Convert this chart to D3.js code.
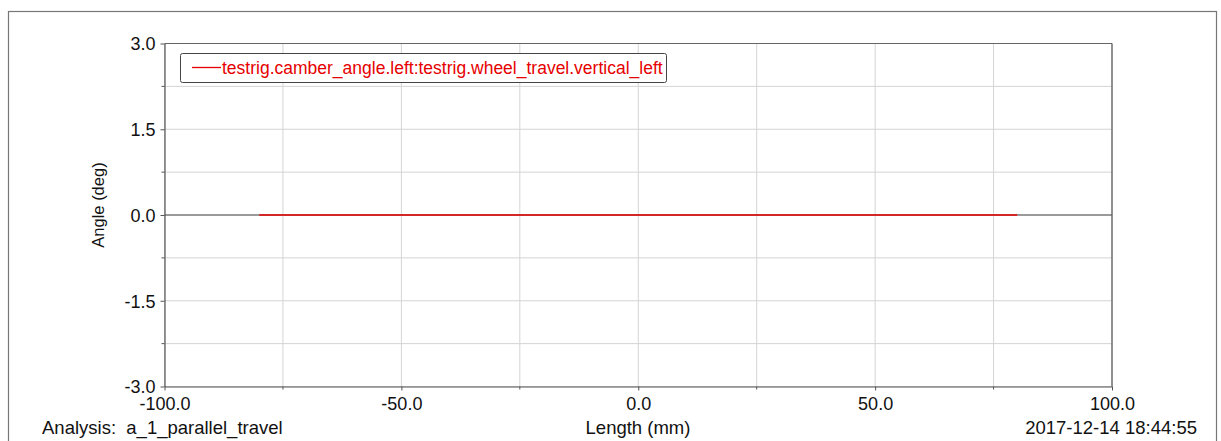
<!DOCTYPE html>
<html>
<head>
<meta charset="utf-8">
<script src="https://cdn.jsdelivr.net/npm/d3@7"></script>
<style>
  body { margin: 0; background: #fff; }
  svg { display: block; font-family: "Liberation Sans", Arial, sans-serif; }
</style>
</head>
<body>
<svg width="1221" height="441"></svg>
<script>
// data
var seriesName = "testrig.camber_angle.left:testrig.wheel_travel.vertical_left";
var travel = [-80, -60, -40, -20, 0, 20, 40, 60, 80];
var camber = [0, 0, 0, 0, 0, 0, 0, 0, 0];
var xTicks = [-100, -50, 0, 50, 100];
var xMinor = [-75, -25, 25, 75];
var yTicks = [-3, -1.5, 0, 1.5, 3];
var yMinor = [-2.25, -0.75, 0.75, 2.25];
var xTitle = "Length (mm)";
var yTitle = "Angle (deg)";
var analysis = "Analysis:  a_1_parallel_travel";
var stamp = "2017-12-14 18:44:55";

var svg = d3.select("svg"),
    width = +svg.attr("width"),
    height = +svg.attr("height");

var pLeft = 164.5, pRight = 1112, pTop = 43.5, pBottom = 386.5;

var x = d3.scaleLinear().domain([-100, 100]).range([pLeft, pRight]);
var y = d3.scaleLinear().domain([-3, 3]).range([pBottom, pTop]);

var fmt = d => d3.format(".1f")(d).replace("\u2212", "-");

// outer frame
svg.append("rect")
    .attr("x", 8.5).attr("y", 11.5)
    .attr("width", 1208).attr("height", 440)
    .attr("fill", "none").attr("stroke", "#777").attr("stroke-width", 1.2);

// grid
var grid = svg.append("g").attr("stroke", "#d4d4d4").attr("stroke-width", 1);
grid.selectAll(".gx").data(xTicks.concat(xMinor))
  .enter().append("line")
    .attr("x1", d => x(d)).attr("x2", d => x(d))
    .attr("y1", pTop).attr("y2", pBottom);
grid.selectAll(".gy").data(yTicks.concat(yMinor))
  .enter().append("line")
    .attr("x1", pLeft).attr("x2", pRight)
    .attr("y1", d => y(d)).attr("y2", d => y(d));

// zero line
svg.append("line")
    .attr("x1", pLeft).attr("x2", pRight)
    .attr("y1", y(0)).attr("y2", y(0))
    .attr("stroke", "#9a9a9a").attr("stroke-width", 2);

// axes
var xAxis = d3.axisBottom(x).tickValues(xTicks).tickSize(4).tickSizeOuter(0)
    .tickFormat(fmt).tickPadding(7);
var yAxis = d3.axisLeft(y).tickValues(yTicks).tickSize(4).tickSizeOuter(0)
    .tickFormat(fmt).tickPadding(5);

var gx = svg.append("g").attr("transform", "translate(0," + pBottom + ")").call(xAxis);
var gy = svg.append("g").attr("transform", "translate(" + pLeft + ",0)").call(yAxis);

// minor ticks
gx.selectAll(".minor").data(xMinor).enter().append("line")
    .attr("x1", d => x(d)).attr("x2", d => x(d)).attr("y1", 0).attr("y2", 3)
    .attr("stroke", "#555");
gy.selectAll(".minor").data(yMinor).enter().append("line")
    .attr("y1", d => y(d)).attr("y2", d => y(d)).attr("x1", 0).attr("x2", -3)
    .attr("stroke", "#555");

[gx, gy].forEach(function(g) {
  g.select(".domain").attr("stroke", "#555").attr("stroke-width", 1.2);
  g.selectAll(".tick line").attr("stroke", "#555");
  g.selectAll(".tick text").attr("fill", "#111")
      .style("font-size", "18px").style("font-family", "Liberation Sans, Arial, sans-serif");
});
gy.selectAll(".tick text").attr("dy", "0.35em");

// top and right edges of plot
svg.append("line").attr("x1", pLeft).attr("x2", pRight).attr("y1", pTop).attr("y2", pTop)
    .attr("stroke", "#666").attr("stroke-width", 1.2);
svg.append("line").attr("x1", pRight).attr("x2", pRight).attr("y1", pTop).attr("y2", pBottom)
    .attr("stroke", "#555").attr("stroke-width", 1.2);

// curve
var line = d3.line().x((d, i) => x(travel[i])).y(d => y(d));
svg.append("path").datum(camber)
    .attr("d", line)
    .attr("fill", "none").attr("stroke", "#e60000").attr("stroke-width", 1.3);

// legend
var lg = svg.append("g");
lg.append("rect")
    .attr("x", 180.5).attr("y", 53.5).attr("width", 486).attr("height", 29)
    .attr("rx", 2).attr("fill", "#fff").attr("stroke", "#444");
lg.append("line").attr("x1", 192).attr("x2", 221).attr("y1", 67.5).attr("y2", 67.5)
    .attr("stroke", "#e60000").attr("stroke-width", 1.3);
lg.append("text").attr("x", 222).attr("y", 74).text(seriesName)
    .attr("fill", "#e60000").style("font-size", "17.5px");

// titles
svg.append("text").attr("transform", "translate(104,205) rotate(-90)")
    .attr("text-anchor", "middle").style("font-size", "16.5px").attr("fill", "#111")
    .text(yTitle);
svg.append("text").attr("x", 638).attr("y", 434)
    .attr("text-anchor", "middle").style("font-size", "18.5px").attr("fill", "#111")
    .text(xTitle);
svg.append("text").attr("x", 42).attr("y", 434)
    .style("font-size", "18.5px").attr("fill", "#111").attr("xml:space", "preserve")
    .text(analysis);
svg.append("text").attr("x", 1197).attr("y", 434)
    .attr("text-anchor", "end").style("font-size", "18.5px").attr("fill", "#111")
    .text(stamp);
</script>
</body>
</html>
